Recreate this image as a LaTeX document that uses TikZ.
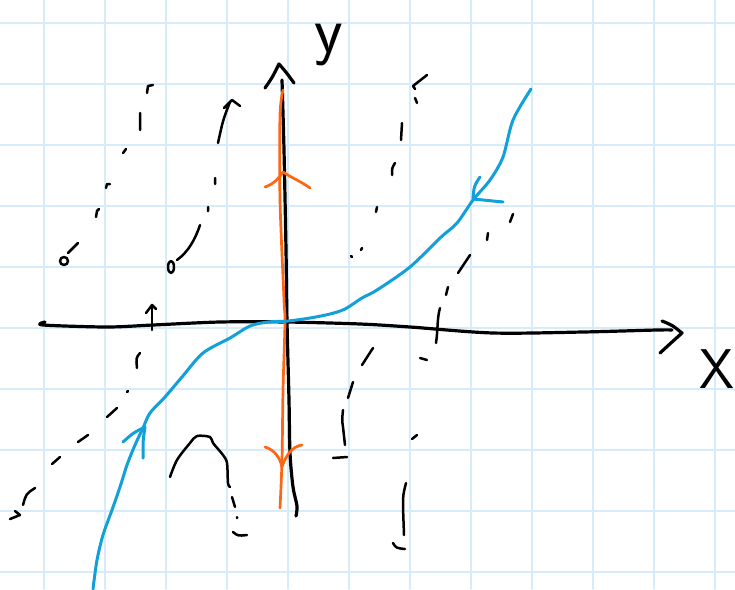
\documentclass[tikz,border=0pt]{standalone}
\usepackage{tikz}

\definecolor{gridblue}{RGB}{214,236,250}
\definecolor{sepblue}{RGB}{17,160,217}
\definecolor{sepred}{RGB}{255,102,17}

\begin{document}
\begin{tikzpicture}[x=1pt, y=-1pt, line cap=round, line join=round,
    gridline/.style={gridblue, line width=1.3pt},
    axis/.style={black, line width=3.2pt},
    traj/.style={black, line width=2.5pt},
    stable/.style={sepblue, line width=3pt},
    unstable/.style={sepred, line width=2.7pt},
    axislabel/.style={font=\sffamily\fontsize{56}{56}\selectfont, inner sep=0pt}]

    \fill[white] (0,0) rectangle (735,589);
    \useasboundingbox (0,0) rectangle (735,589);

    % Griglia del foglio
    \foreach \x in {44,105,...,715} \draw[gridline] (\x,0) -- (\x,589);
    \foreach \y in {23,84,...,572} \draw[gridline] (0,\y) -- (735,\y);

    % Assi cartesiani
    \draw[axis] plot[smooth] coordinates {(45,322) (43,325) (107,327) (153,325) (220,322) (287,322) (360,324) (410,327) (493,333) (583,332) (657,330) (672,330)};
    \draw[axis] (662,321) .. controls (672,325) .. (682,333) .. controls (672,342) .. (660,353);
    \draw[axis] plot[smooth] coordinates {(282,80) (284,150) (286,250) (287,322) (289,400) (290,453) (293,487) (297,506) (296,516)};
    \draw[axis] (265,88) .. controls (272,78) .. (279,64) .. controls (286,72) .. (294,83);
    \node[axislabel] (xlab) at (717,369) {X};
    \node[axislabel, font=\sffamily\fontsize{66}{66}\selectfont] (ylab) at (329,45) {y};

    % Varieta instabile (arancione)
    \draw[unstable] plot[smooth] coordinates {(283,90) (280,115) (280,200) (284,300) (285,322) (283,390) (282,460) (280,508)};
    \draw[unstable] (265,187) .. controls (274,184) and (279,178) .. (283,172) .. controls (292,178) and (302,182) .. (310,188);
    \draw[unstable] (265,447) .. controls (275,450) and (280,458) .. (282,467) .. controls (285,457) and (292,446) .. (302,445);

    % Varieta stabile (azzurra)
    \draw[stable] plot[smooth] coordinates {(93,589) (97,560) (103,535) (112,510) (120,487) (127,465) (135,445) (143,428) (150,413) (165,397) (182,377) (203,353) (230,338) (250,326) (268,322) (288,321) (310,318) (330,314) (345,309) (362,298) (377,290) (410,267) (440,238) (457,223) (473,200) (490,180) (503,157) (513,120) (531,89)};
    \draw[stable] (480,177) .. controls (474,186) .. (473,199) .. controls (488,201) .. (503,202);
    \draw[stable] (123,442) .. controls (133,433) .. (145,427) .. controls (143,440) .. (143,458);

    % Freccetta sull'asse x
    \draw[traj] (152,330) -- (152,305);
    \draw[traj] (146,313) -- (152,305) -- (156,309);

    % Traiettorie tratteggiate, in alto a sinistra
    \draw[traj] (147,93) -- (148,86) -- (153,85)
        (140,113) -- (140,130)
        (123,153) -- (126,149)
        (106,188) -- (107,184) -- (110,184)
        (96,217) -- (97,211) -- (99,209)
        (78,243) -- (68,253);
    \draw[traj] (64,261) circle (4);

    \draw[traj] (224,108) -- (232,100) -- (240,106)
        (230,102) .. controls (223,120) .. (218,143)
        (215,178) -- (215,184)
        (208,207) -- (208,211)
        (200,225) .. controls (195,240) and (188,252) .. (177,260);
    \draw[traj] (171,267) ellipse (3 and 6);

    % Traiettorie tratteggiate, in alto a destra
    \draw[traj] (427,75) -- (413,86) -- (415,89)
        (415,98) -- (417,103)
        (402,123) -- (401,140)
        (395,163) .. controls (392,168) .. (392,175)
        (377,207) -- (376,212)
        (362,248) -- (361,250)
        (352,257) -- (351,256);

    \draw[traj] (513,214) -- (510,222)
        (488,233) -- (487,240)
        (470,255) .. controls (464,264) .. (458,273)
        (448,287) -- (446,295)
        (440,308) .. controls (437,318) and (438,330) .. (436,343)
        (420,358) -- (427,360);

    % Traiettorie tratteggiate, in basso a destra
    \draw[traj] (373,348) -- (362,365)
        (353,382) -- (348,398)
        (343,410) .. controls (342,420) .. (343,427) -- (345,445)
        (333,458) -- (347,457);

    \draw[traj] (417,435) -- (412,439)
        (406,483) .. controls (403,495) .. (403,507) -- (404,535)
        (393,543) .. controls (396,548) .. (405,549);

    % Traiettorie tratteggiate, in basso a sinistra
    \draw[traj] (140,353) .. controls (136,358) .. (137,368)
        (128,391) -- (127,392)
        (117,408) -- (107,417)
        (88,435) -- (78,442)
        (60,457) -- (52,464)
        (35,488) .. controls (26,494) .. (23,505)
        (15,511) -- (20,515) -- (10,519);

    \draw[traj] plot[smooth] coordinates {(170,477) (177,460) (190,443) (197,436) (210,437) (213,443) (223,455) (227,463) (228,483) (230,487)};
    \draw[traj] (232,497) -- (235,507)
        (237,517) -- (237,518)
        (233,532) .. controls (238,536) .. (247,535);
\end{tikzpicture}
\end{document}
